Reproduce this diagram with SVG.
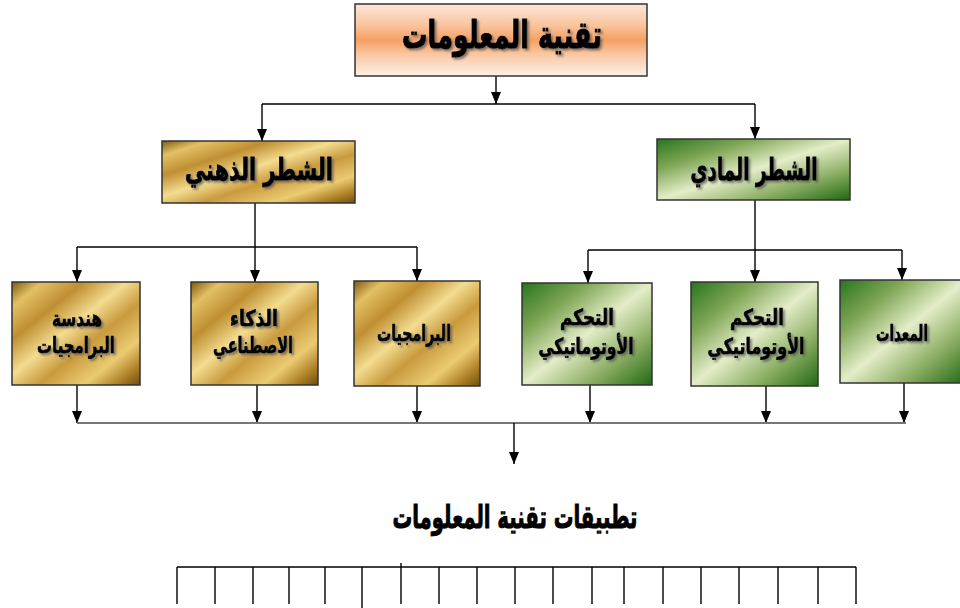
<svg xmlns="http://www.w3.org/2000/svg" width="960" height="608" viewBox="0 0 960 608">
  <defs>
    <linearGradient id="peach" x1="0" y1="0" x2="0" y2="1">
      <stop offset="0" stop-color="#fde6d8"/>
      <stop offset="0.3" stop-color="#f9c49c"/>
      <stop offset="0.5" stop-color="#f5a062"/>
      <stop offset="0.7" stop-color="#f9c7a2"/>
      <stop offset="1" stop-color="#fef0e6"/>
    </linearGradient>
    <linearGradient id="gold" x1="0" y1="0" x2="1" y2="1">
      <stop offset="0" stop-color="#7e5a14"/>
      <stop offset="0.12" stop-color="#e3c064"/>
      <stop offset="0.28" stop-color="#bf8f32"/>
      <stop offset="0.45" stop-color="#f3dc90"/>
      <stop offset="0.6" stop-color="#c99a3e"/>
      <stop offset="0.78" stop-color="#ebcb72"/>
      <stop offset="0.9" stop-color="#b08228"/>
      <stop offset="1" stop-color="#6f4e10"/>
    </linearGradient>
    <linearGradient id="green" x1="0" y1="0" x2="1" y2="1">
      <stop offset="0" stop-color="#2a7420"/>
      <stop offset="0.25" stop-color="#7fa655"/>
      <stop offset="0.5" stop-color="#e4edc8"/>
      <stop offset="0.75" stop-color="#8aad62"/>
      <stop offset="1" stop-color="#216816"/>
    </linearGradient>
    <filter id="shadow" x="-10%" y="-20%" width="130%" height="150%">
      <feDropShadow dx="2" dy="2" stdDeviation="1.2" flood-color="#555" flood-opacity="0.7"/>
    </filter>
    <marker id="arrow" viewBox="0 0 12 10" refX="12" refY="5" markerWidth="12" markerHeight="10" markerUnits="userSpaceOnUse" orient="auto">
      <path d="M0 0 L12 5 L0 10 Z" fill="#000"/>
    </marker>
    <style>
      .box { stroke: #333; stroke-width: 1.5; }
      .lbl { font-family: "DejaVu Sans", sans-serif; font-weight: bold; fill: #000; stroke: #000; stroke-width: 0.7; text-anchor: middle; filter: url(#shadow); }
      .big { font-size: 38px; stroke-width: 1; }
      .mid { font-size: 30px; stroke-width: 0.9; }
      .sm { font-size: 22px; }
      .wire { fill: none; stroke: #000; stroke-width: 1.4; }
      .arr { fill: none; stroke: #000; stroke-width: 1.4; marker-end: url(#arrow); }
      .bus { fill: none; stroke: #777; stroke-width: 2; }
    </style>
  </defs>

  <rect width="960" height="608" fill="#fff"/>

  <!-- connectors -->
  <g id="connectors">
    <path class="arr" d="M496 76 V104"/>
    <path class="wire" d="M262 104 H755"/>
    <path class="arr" d="M262 104 V141"/>
    <path class="arr" d="M755 104 V139"/>

    <path class="wire" d="M255 203 V247"/>
    <path class="wire" d="M77 247 H417"/>
    <path class="arr" d="M77 247 V282"/>
    <path class="arr" d="M255 247 V282"/>
    <path class="arr" d="M417 247 V281"/>

    <path class="wire" d="M755 200 V250"/>
    <path class="wire" d="M588 250 H902"/>
    <path class="arr" d="M588 250 V283"/>
    <path class="arr" d="M755 250 V282"/>
    <path class="arr" d="M902 250 V280"/>

    <path class="arr" d="M77 385 V423"/>
    <path class="arr" d="M257 385 V423"/>
    <path class="arr" d="M417 386 V423"/>
    <path class="arr" d="M590 385 V423"/>
    <path class="arr" d="M766 386 V423"/>
    <path class="arr" d="M904 383 V423"/>
    <path class="bus" d="M77 423 H906"/>
    <path class="arr" d="M514 423 V464"/>

    <!-- applications comb -->
    <path class="wire" d="M177 567 H856 M177 567 V604 M215 567 V604 M253 567 V604 M289 567 V604 M325 567 V604 M362 567 V608 M401 563 V604 M439 567 V604 M477 567 V604 M515 567 V604 M553 567 V604 M592 567 V604 M624 567 V604 M663 567 V604 M701 567 V604 M739 567 V604 M778 567 V604 M818 567 V604 M856 567 V604"/>
  </g>

  <g id="root">
    <rect class="box" x="355" y="4" width="292" height="72" fill="url(#peach)"/>
    <text class="lbl big" x="502" y="48" textLength="200" lengthAdjust="spacingAndGlyphs">تقنية المعلومات</text>
  </g>

  <g id="mental">
    <rect class="box" x="162" y="141" width="193" height="62" fill="url(#gold)"/>
    <text class="lbl mid" x="259" y="180" textLength="148" lengthAdjust="spacingAndGlyphs">الشطر الذهني</text>
  </g>

  <g id="physical">
    <rect class="box" x="657" y="139" width="193" height="61" fill="url(#green)"/>
    <text class="lbl mid" x="754" y="180" textLength="127" lengthAdjust="spacingAndGlyphs">الشطر المادي</text>
  </g>

  <g id="software-eng">
    <rect class="box" x="12" y="282" width="128" height="103" fill="url(#gold)"/>
    <text class="lbl sm" x="77" y="326" textLength="50" lengthAdjust="spacingAndGlyphs">هندسة</text>
    <text class="lbl sm" x="76" y="353" textLength="78" lengthAdjust="spacingAndGlyphs">البرامجيات</text>
  </g>

  <g id="ai">
    <rect class="box" x="191" y="282" width="127" height="103" fill="url(#gold)"/>
    <text class="lbl sm" x="254" y="326" textLength="48" lengthAdjust="spacingAndGlyphs">الذكاء</text>
    <text class="lbl sm" x="253" y="353" textLength="80" lengthAdjust="spacingAndGlyphs">الاصطناعي</text>
  </g>

  <g id="software">
    <rect class="box" x="354" y="281" width="126" height="105" fill="url(#gold)"/>
    <text class="lbl sm" x="414" y="341" textLength="74" lengthAdjust="spacingAndGlyphs">البرامجيات</text>
  </g>

  <g id="control-1">
    <rect class="box" x="522" y="283" width="130" height="102" fill="url(#green)"/>
    <text class="lbl sm" x="587" y="325" textLength="54" lengthAdjust="spacingAndGlyphs">التحكم</text>
    <text class="lbl sm" x="586" y="354" textLength="95" lengthAdjust="spacingAndGlyphs">الأوتوماتيكي</text>
  </g>

  <g id="control-2">
    <rect class="box" x="691" y="282" width="127" height="104" fill="url(#green)"/>
    <text class="lbl sm" x="757" y="325" textLength="54" lengthAdjust="spacingAndGlyphs">التحكم</text>
    <text class="lbl sm" x="756" y="354" textLength="97" lengthAdjust="spacingAndGlyphs">الأوتوماتيكي</text>
  </g>

  <g id="hardware">
    <rect class="box" x="840" y="280" width="126" height="103" fill="url(#green)"/>
    <text class="lbl sm" x="902" y="341" textLength="52" lengthAdjust="spacingAndGlyphs">المعدات</text>
  </g>

  <g id="applications">
    <text class="lbl big" x="515" y="528" style="filter:none;font-size:32px" textLength="245" lengthAdjust="spacingAndGlyphs">تطبيقات تقنية المعلومات</text>
  </g>
</svg>
